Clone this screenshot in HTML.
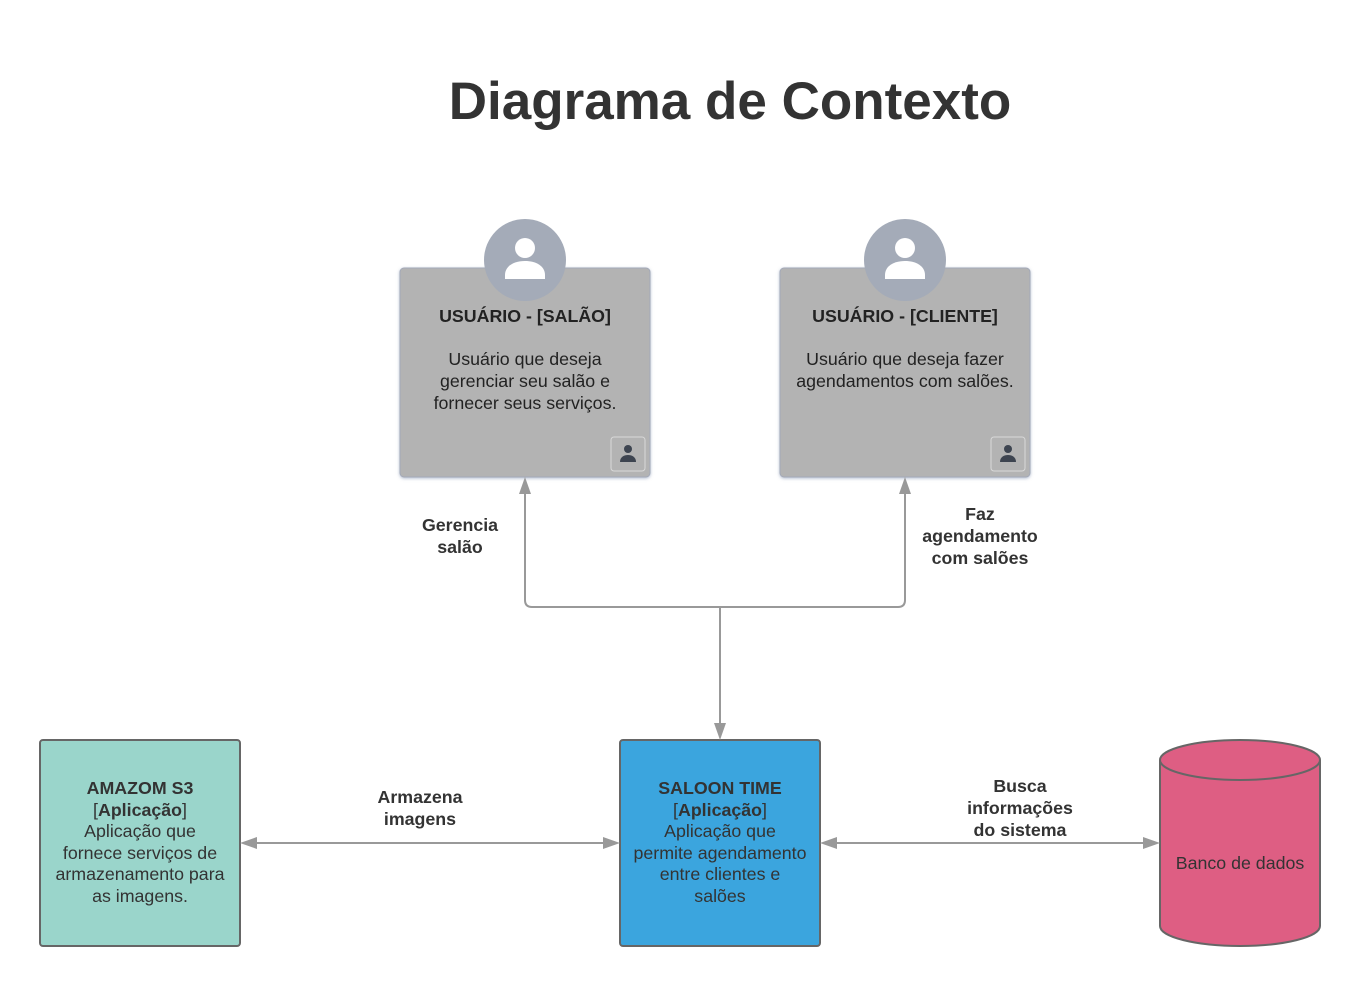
<!DOCTYPE html>
<html><head><meta charset="utf-8"><style>
body{margin:0;width:1360px;height:987px;background:#fff;position:relative;font-family:"Liberation Sans",sans-serif;color:#333;overflow:hidden}
.t{position:absolute;text-align:center;font-size:17.8px;line-height:22px}
.b{font-weight:bold}
</style></head><body>
<svg width="1360" height="987" style="position:absolute;left:0;top:0">
<defs>
<filter id="sh" x="-10%" y="-10%" width="120%" height="120%"><feDropShadow dx="0" dy="1" stdDeviation="1.5" flood-color="#8090b0" flood-opacity="0.6"/></filter>
</defs>
<rect x="400" y="268" width="250" height="209" rx="4" fill="#b3b3b3" stroke="#a3a9b8" filter="url(#sh)"/>
<rect x="780" y="268" width="250" height="209" rx="4" fill="#b3b3b3" stroke="#a3a9b8" filter="url(#sh)"/>
<g fill="#a4abb8"><circle cx="525" cy="260" r="41"/><circle cx="905" cy="260" r="41"/></g>
<g fill="#fff">
<circle cx="525" cy="248" r="10"/><path d="M505 279 v-4 c0-9 9-14 20-14 s20 5 20 14 v4 z"/>
<circle cx="905" cy="248" r="10"/><path d="M885 279 v-4 c0-9 9-14 20-14 s20 5 20 14 v4 z"/>
</g>
<g fill="none" stroke="#d8d8d8"><rect x="611" y="437" width="34" height="34" rx="3"/><rect x="991" y="437" width="34" height="34" rx="3"/></g>
<g fill="#3d4450">
<circle cx="628" cy="449" r="4"/><path d="M620 462 c0-5 4-7 8-7 s8 2 8 7 z"/>
<circle cx="1008" cy="449" r="4"/><path d="M1000 462 c0-5 4-7 8-7 s8 2 8 7 z"/>
</g>
<rect x="40" y="740" width="200" height="206" rx="3" fill="#9ad5cb" stroke="#666" stroke-width="2"/>
<rect x="620" y="740" width="200" height="206" rx="3" fill="#3ba5de" stroke="#666" stroke-width="2"/>
<path d="M1160 760 V926 A80 20 0 0 0 1320 926 V760" fill="#de5e83" stroke="#666" stroke-width="2"/>
<ellipse cx="1240" cy="760" rx="80" ry="20" fill="#de5e83" stroke="#666" stroke-width="2"/>
<g fill="none" stroke="#999" stroke-width="2">
<path d="M525 490 V600 q0 7 7 7 H898 q7 0 7-7 V490"/>
<path d="M720 607 V727"/>
<path d="M254 843 H606"/>
<path d="M834 843 H1146"/>
</g>
<g fill="#999">
<path d="M525 477 l-6 17 h12z"/><path d="M905 477 l-6 17 h12z"/>
<path d="M720 740 l-6 -17 h12z"/>
<path d="M240 843 l17 -6 v12z"/><path d="M620 843 l-17 -6 v12z"/>
<path d="M820 843 l17 -6 v12z"/><path d="M1160 843 l-17 -6 v12z"/>
</g>
</svg>
<div class="t b" style="left:330px;top:70px;width:800px;font-size:53px;line-height:64px">Diagrama de Contexto</div>
<div class="t" style="left:400px;top:305px;width:250px;color:#222"><span class="b" style="font-size:17.8px">USUÁRIO - [SALÃO]</span><br><div style="height:21px"></div>Usuário que deseja<br>gerenciar seu salão e<br>fornecer seus serviços.</div>
<div class="t" style="left:780px;top:305px;width:250px;color:#222"><span class="b" style="font-size:17.8px">USUÁRIO - [CLIENTE]</span><br><div style="height:21px"></div>Usuário que deseja fazer<br>agendamentos com salões.</div>
<div class="t b" style="left:400px;top:514px;width:120px">Gerencia<br>salão</div>
<div class="t b" style="left:900px;top:503px;width:160px">Faz<br>agendamento<br>com salões</div>
<div class="t b" style="left:340px;top:786px;width:160px">Armazena<br>imagens</div>
<div class="t b" style="left:930px;top:775px;width:180px">Busca<br>informações<br>do sistema</div>
<div class="t" style="left:30px;top:778px;width:220px;line-height:21.5px"><span class="b">AMAZOM S3</span><br>[<span class="b">Aplicação</span>]<br>Aplicação que<br>fornece serviços de<br>armazenamento para<br>as imagens.</div>
<div class="t" style="left:610px;top:778px;width:220px;line-height:21.5px"><span class="b">SALOON TIME</span><br>[<span class="b">Aplicação</span>]<br>Aplicação que<br>permite agendamento<br>entre clientes e<br>salões</div>
<div class="t" style="left:1150px;top:852px;width:180px">Banco de dados</div>
</body></html>
